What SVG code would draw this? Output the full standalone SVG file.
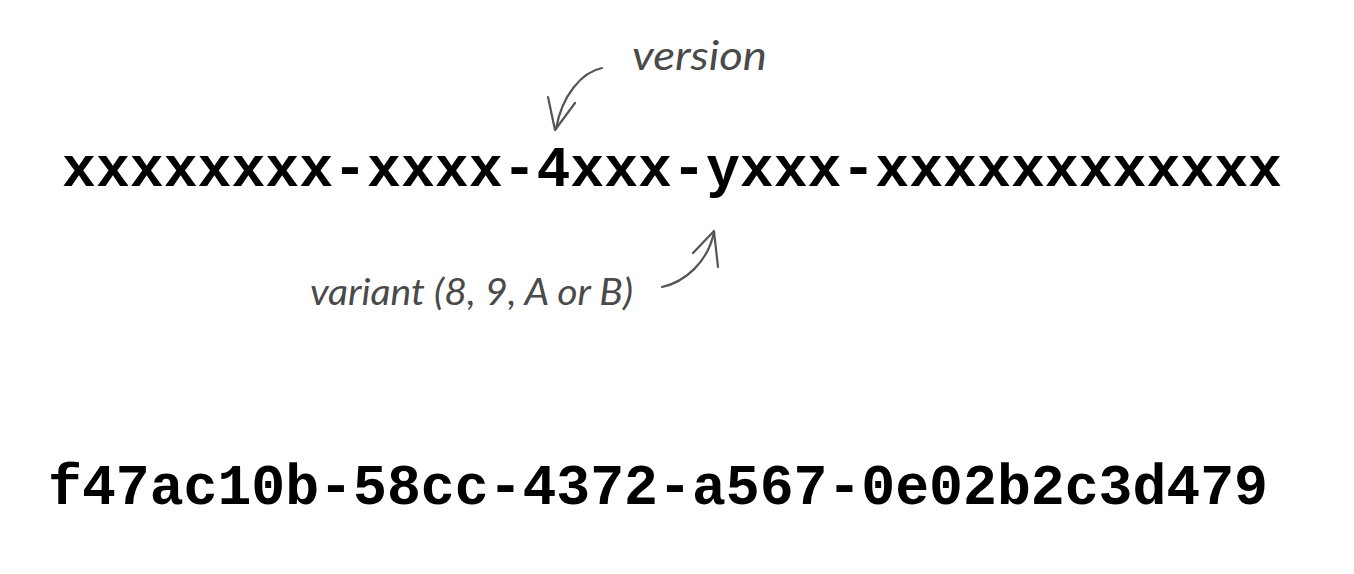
<svg xmlns="http://www.w3.org/2000/svg" width="1354" height="574" viewBox="0 0 1354 574">
<style>
.mono{font-family:"Liberation Mono","Courier New",monospace;font-weight:bold;font-size:56.5px;fill:#000;}
.note{font-family:Lato,"Open Sans",sans-serif;font-style:italic;fill:#4a4a4a;}
.arrow{fill:none;stroke:#555;stroke-width:2.2;stroke-linecap:round;stroke-linejoin:round;}
</style>
<rect width="1354" height="574" fill="#fff"/>
<g id="template">
<text class="mono" x="62" y="186" textLength="1220" lengthAdjust="spacing">xxxxxxxx-xxxx-4xxx-yxxx-xxxxxxxxxxxx</text>
</g>
<g id="example">
<text class="mono" x="48" y="504" textLength="1220" lengthAdjust="spacing">f47ac10b-58cc-4372-a567-0e02b2c3d479</text>
</g>
<g id="version-label">
<text class="note" x="632" y="70" font-size="41" textLength="135" lengthAdjust="spacingAndGlyphs">version</text>
</g>
<g id="variant-label">
<text class="note" x="310" y="305" font-size="36.5" textLength="323" lengthAdjust="spacingAndGlyphs">variant (8, 9, A or B)</text>
</g>
<g id="connectors">
<path class="arrow" d="M602,68 C582,72 562,95 556,129"/>
<path class="arrow" d="M548,97 L555,130 L575,103"/>
<path class="arrow" d="M662,287 C685,282 708,262 714,232"/>
<path class="arrow" d="M693,253 L714,231 L718,267"/>
</g>
</svg>
